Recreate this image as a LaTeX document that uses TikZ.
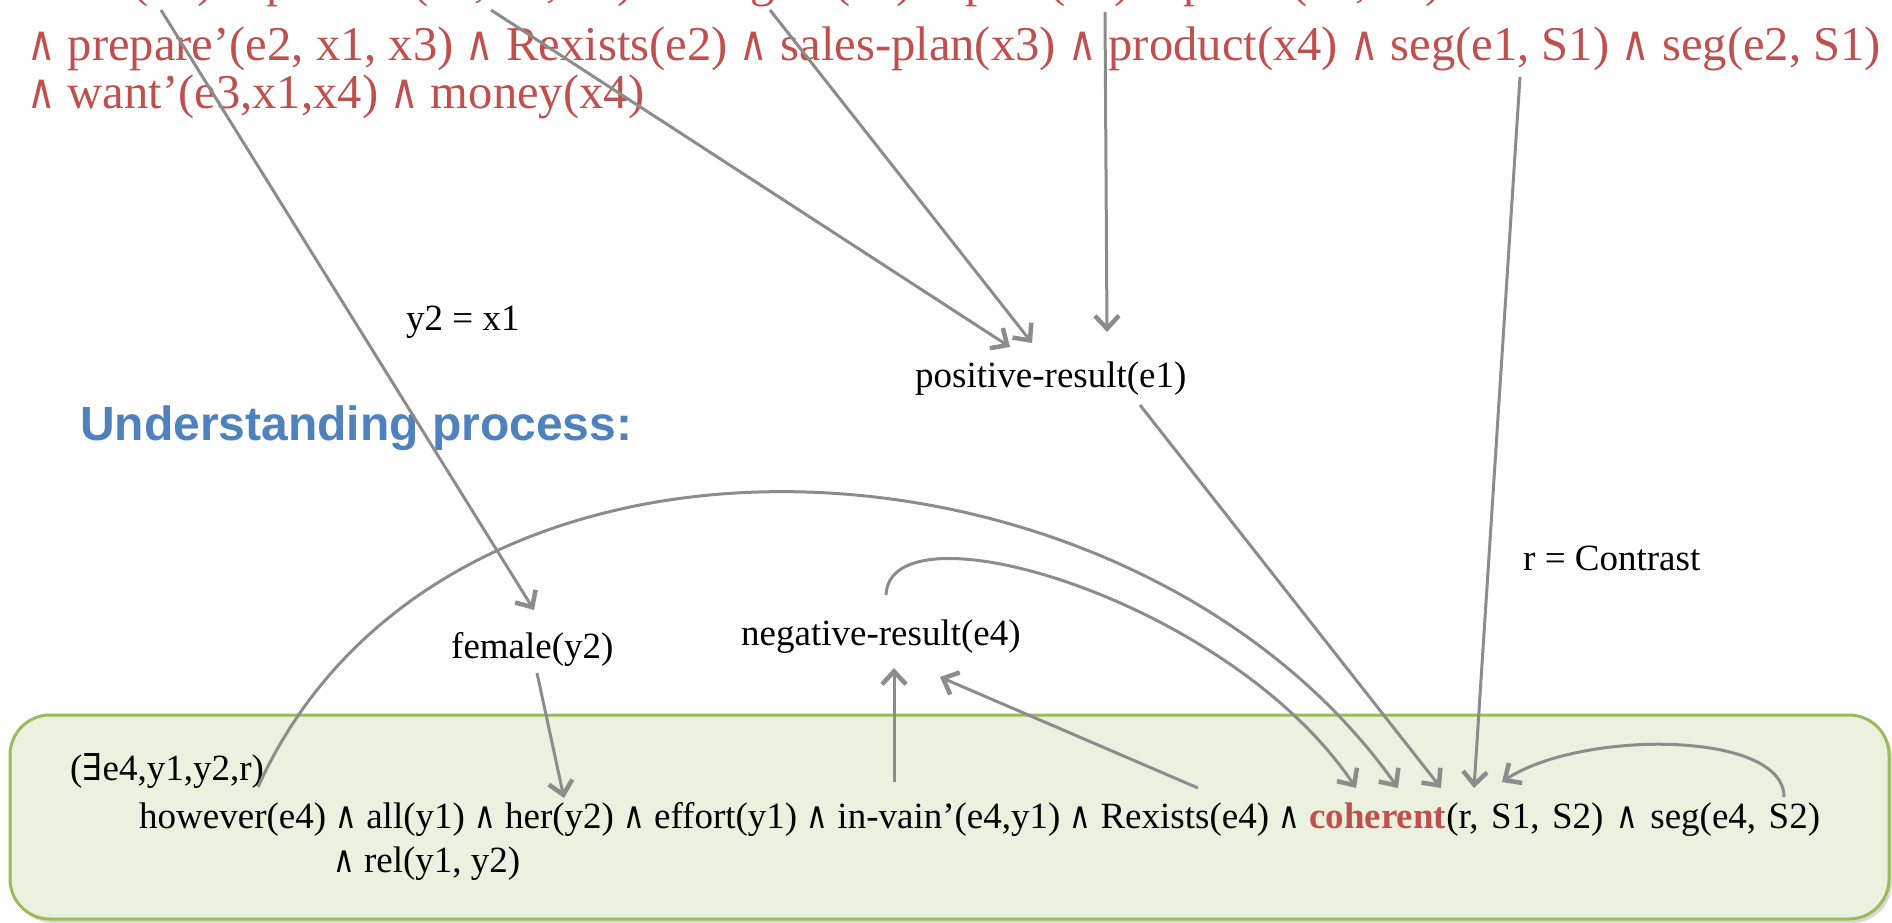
\documentclass[tikz,border=0pt]{standalone}
\usepackage{fontspec}
\setmainfont{Liberation Serif}
\newfontfamily\headfont{Liberation Sans}
\newfontfamily\symfont{DejaVu Serif}
\usetikzlibrary{arrows.meta}

\definecolor{formred}{RGB}{192,80,77}
\definecolor{headblue}{RGB}{79,129,189}
\definecolor{linkgray}{RGB}{140,140,140}
\definecolor{boxfill}{RGB}{235,241,222}
\definecolor{boxline}{RGB}{155,187,89}

\newcommand{\conj}{\scalebox{0.8}[1]{\symfont ∧}}
\newcommand{\somex}{{\symfont ∃}}

\begin{document}
\begin{tikzpicture}[x=1pt,y=-1pt,
  redtext/.style={anchor=base west, inner sep=0pt, text=formred,
                  font=\fontsize{48.6}{57}\selectfont},
  plain/.style={anchor=base west, inner sep=0pt,
                font=\fontsize{37}{44}\selectfont},
  link/.style={draw=linkgray, line width=3pt,
               -{Straight Barb[length=13pt,width=24pt,line width=4.5pt]}},
]
\useasboundingbox (0,0) rectangle (1892,922);

% box holding the sentence being understood
\fill[black!15, rounded corners=40pt] (13,718) rectangle (1892,923);
\draw[boxline, fill=boxfill, line width=3pt, rounded corners=40pt]
  (10,715) rectangle (1889,919);

% logical form of the first segment
\node[redtext] (l1) at (27,-4)
  {\conj\ she(x1) \conj\ pursue’(e1, x1, e2) \conj\ diligent(e1) \conj\ plan(x3) \conj\ profit(x4, e3)};
\node[redtext] (l2) at (27,60)
  {\conj\ prepare’(e2, x1, x3) \conj\ Rexists(e2) \conj\ sales-plan(x3) \conj\ product(x4) \conj\ seg(e1, S1) \conj\ seg(e2, S1)};
\node[redtext] (l3) at (27,108)
  {\conj\ want’(e3,x1,x4) \conj\ money(x4)};

\node[anchor=base west, inner sep=0pt, text=headblue,
      font=\headfont\bfseries\fontsize{48}{57}\selectfont] (head) at (80,440)
  {Understanding process:};

% intermediate inferences
\node[plain] (eqy) at (406,330) {y2 = x1};
\node[plain] (pos) at (915,387) {positive-result(e1)};
\node[plain] (fem) at (451,658) {female(y2)};
\node[plain] (neg) at (741,645) {negative-result(e4)};
\node[plain] (rel) at (1523,570) {r = Contrast};

% logical form of the second segment
\node[plain] (ex) at (70,780) {(\somex e4,y1,y2,r)};
\node[plain] (lf) at (139,828)
  {however(e4) \conj\ all(y1) \conj\ her(y2) \conj\ effort(y1) \conj\ in-vain’(e4,y1) \conj\ Rexists(e4) \conj\ \textcolor{formred}{\textbf{coherent}}{\spaceskip=0.34em (r, S1, S2) \conj\ seg(e4, S2)}};
\node[plain] (lf2) at (333,872) {\conj\ rel(y1, y2)};

% end points of the links
\coordinate (sheX) at (161,10);
\coordinate (femTop) at (534,610);
\coordinate (rexX) at (491,10);
\coordinate (planX) at (770,10);
\coordinate (prodX) at (1105,12);
\coordinate (posA) at (1010,347);
\coordinate (posB) at (1032,343);
\coordinate (posC) at (1107,332);
\coordinate (posOut) at (1140,405);
\coordinate (segOne) at (1520,77);
\coordinate (femOut) at (537,673);
\coordinate (herIn) at (564,798);
\coordinate (vainOut) at (894,782);
\coordinate (negInA) at (894,668);
\coordinate (rexOut) at (1198,788);
\coordinate (negInB) at (940,677);
\coordinate (negTop) at (886,595);
\coordinate (exOut) at (258,787);
\coordinate (cohA) at (1356,788);
\coordinate (cohB) at (1398,788);
\coordinate (cohC) at (1441,788);
\coordinate (cohD) at (1474,788);
\coordinate (cohE) at (1502,782);
\coordinate (segTwo) at (1784,797);

% links
\draw[link] (sheX) -- (femTop);
\draw[link] (rexX) -- (posA);
\draw[link] (planX) -- (posB);
\draw[link] (prodX) -- (posC);
\draw[link] (posOut) -- (cohC);
\draw[link] (segOne) -- (cohD);
\draw[link] (femOut) -- (herIn);
\draw[link] (vainOut) -- (negInA);
\draw[link] (rexOut) -- (negInB);
\draw[link] (negTop) .. controls (890,500) and (1230,600) .. (cohA);
\draw[link] (exOut) .. controls (445,373) and (1134,415) .. (cohB);
\draw[link] (segTwo) .. controls (1784,730) and (1580,730) .. (cohE);
\end{tikzpicture}
\end{document}
